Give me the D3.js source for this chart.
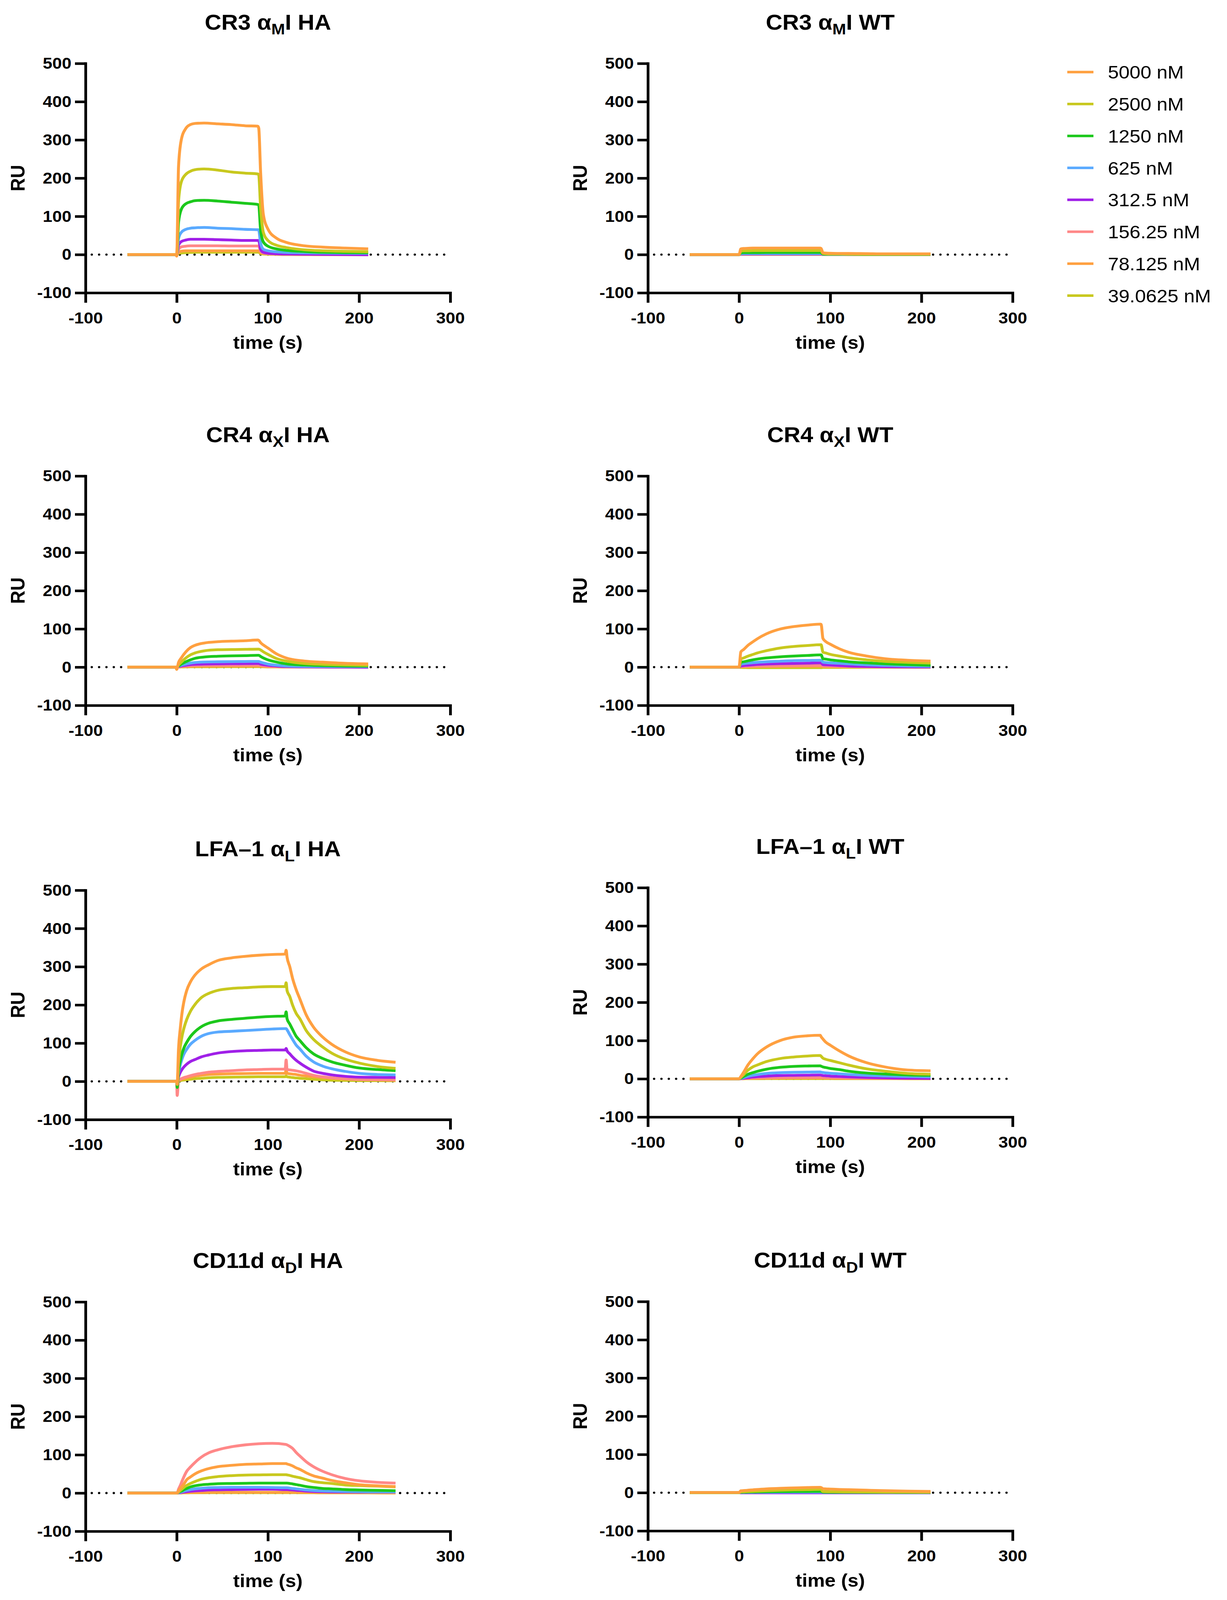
<!DOCTYPE html>
<html>
<head>
<meta charset="utf-8">
<script src="https://cdn.jsdelivr.net/npm/d3@7"></script>
<style>
  html, body { margin: 0; padding: 0; background: #fff; overflow: hidden; }
  svg { display: block; }
  text { font-family: "Liberation Sans", Arial, sans-serif; }
</style>
</head>
<body>
<script>
// ---- data ----
const concentrations = ['5000 nM', '2500 nM', '1250 nM', '625 nM', '312.5 nM', '156.25 nM', '78.125 nM', '39.0625 nM'];

// 90 s injection, 210 s run
const timeShort = [-54, -1, 0, 2, 5, 10, 15, 20, 30, 45, 60, 75, 89, 90, 92, 95, 100, 110, 120, 140, 160, 185, 210];
// 120 s injection, 240 s run
const timeLong = [-54, -1, 0, 0.5, 2, 4, 6, 8, 11, 15, 20, 27, 35, 45, 60, 75, 90, 105, 119, 120, 121, 124, 127, 131, 135, 142, 150, 160, 170, 185, 200, 220, 240];

const cr3HA = [
  [0, 0, -4, 230, 300, 330, 340, 343, 344, 342, 340, 337, 336, 330, 215, 105, 67, 42, 32, 23, 19.5, 17, 15],
  [0, 0, -2, 140, 190, 210, 218, 222, 224, 221, 216, 213, 211, 208, 125, 58, 37, 24, 18.5, 12.5, 10, 8.5, 7.5],
  [0, 0, -2, 85, 118, 133, 138, 141, 142, 140, 137, 134, 131, 129, 65, 33, 22, 14.5, 11, 8, 6, 5.2, 4.8],
  [0, 0, -1, 42, 58, 66, 69, 70, 71, 69, 68, 66, 65, 64, 30, 14, 10, 7, 5.5, 4.5, 4, 3.5, 3.2],
  [0, 0, -1, 25, 34, 38, 40, 40, 40, 39, 38, 37, 37, 36, 14, 6, 3.5, 2, 1.5, 1, 0.5, 0, -0.5],
  [0, 0, 0, 14, 20, 22, 23, 23, 23, 23, 22.5, 22.5, 22.4, 22, 9, 4, 2.5, 1.5, 1, 0.5, 0, 0, 0],
  [0, 0, 0, 6, 9, 10, 10, 10, 10, 10, 10, 10, 10, 9.5, 5, 3, 2, 1, 0.5, 0, 0, 0, 0],
  [0, 0, 0, 3, 4, 5, 5.5, 6, 6, 6, 6, 6, 6, 6, 2.5, 1.5, 1, 0.5, 0, 0, 0, 0, 0]
];

const cr3WT = [
  [0, 0, 0, 15, 16, 16.5, 17, 17, 17, 17, 17, 17, 17, 16, 5, 4, 3.5, 3, 3, 2.5, 2, 2, 2],
  [0, 0, 0, 9, 10, 10, 10.5, 10.5, 10.5, 10.5, 10.5, 10.5, 10.5, 10, 3, 2, 1.5, 1.5, 1, 1, 1, 1, 1],
  [0, 0, 0, 4.5, 5, 5, 5, 5, 5.5, 5.5, 5.5, 5.5, 5.5, 5, 1.5, 1, 1, 1, 1, 0.5, 0.5, 0.5, 0.5],
  [0, 0, 0, 2, 2.5, 2.5, 2.5, 2.5, 2.5, 2.5, 2.5, 2.5, 2.5, 2.5, 1, 0.5, 0.5, 0.5, 0.5, 0.3, 0.3, 0.3, 0.3],
  [0, 0, 0, 1.2, 1.5, 1.5, 1.5, 1.5, 1.5, 1.5, 1.5, 1.5, 1.5, 1.5, 0.5, 0.3, 0.3, 0.3, 0.2, 0.2, 0.2, 0.2, 0.2],
  [0, 0, 0, 0.8, 1, 1, 1, 1, 1, 1, 1, 1, 1, 1, 0.3, 0.2, 0.2, 0.2, 0.1, 0.1, 0.1, 0.1, 0.1],
  [0, 0, 0, 0.4, 0.5, 0.5, 0.5, 0.5, 0.5, 0.5, 0.5, 0.5, 0.5, 0.5, 0.2, 0.1, 0.1, 0.1, 0, 0, 0, 0, 0],
  [0, 0, 0, 0.2, 0.2, 0.2, 0.2, 0.2, 0.2, 0.2, 0.2, 0.2, 0.2, 0.2, 0, 0, 0, 0, 0, 0, 0, 0, 0]
];

const cr4HA = [
  [0, 0, -6, 12, 24, 40, 51, 57, 63, 66.5, 68, 69, 71, 70, 64, 58, 50, 34, 24, 16, 13, 10, 8.5],
  [0, 0, 0, 6, 13, 24, 32, 37, 42.5, 45.5, 46, 46.5, 47, 47, 45, 40, 33.5, 22, 16, 9.6, 7.3, 5.8, 4.8],
  [0, 0, 0, 3, 8, 14, 19, 23, 26.5, 28.5, 29.5, 30, 31, 31, 28, 24, 19, 13, 8.6, 5.4, 4, 3, 2.6],
  [0, 0, 0, 2, 5, 8, 10.5, 12, 13.4, 14, 14.4, 14.7, 15, 15, 13, 11, 8, 5, 3, 2, 1.6, 1.4, 1.3],
  [0, 0, 0, 1, 3, 5, 6.5, 7.3, 8, 8.6, 9, 9.3, 9.6, 9.5, 8, 6.5, 5, 3, 1.6, 0.8, 0.3, 0, -0.3],
  [0, 0, 0, 0.5, 1.5, 3, 4, 4.5, 4.8, 5, 5.2, 5.3, 5.4, 5.3, 4.5, 3.5, 2, 1.2, 0.8, 0.4, 0.2, 0, 0],
  [0, 0, 0, 0.3, 0.8, 1.5, 2, 2.2, 2.5, 2.5, 2.6, 2.6, 2.7, 2.7, 2.2, 1.7, 1, 0.6, 0.4, 0.2, 0, 0, 0],
  [0, 0, 0, 0, 0.3, 0.6, 0.8, 1, 1, 1, 1.2, 1.2, 1.2, 1.2, 1, 0.8, 0.5, 0.3, 0.2, 0, 0, 0, 0]
];

const cr4WT = [
  [0, 0, 0, 40, 46, 57.5, 66, 74, 87, 99.5, 106, 110, 112.5, 112, 75, 67, 60, 48, 39, 29, 22, 18, 16],
  [0, 0, 0, 21, 24, 29, 33, 37, 43, 50, 54, 56.5, 58.5, 58.5, 39, 37, 33.5, 29, 24.6, 19, 15, 12.5, 10.5],
  [0, 0, 0, 13, 14, 16.6, 19, 21, 24, 27, 29, 30.5, 32, 32, 22, 21, 19, 16.5, 14, 11, 8.6, 6.5, 4.8],
  [0, 0, 0, 8, 9, 10.5, 11.5, 12.5, 14, 15.5, 17, 17.5, 18, 18, 13, 12, 11, 10, 8.6, 6, 4.5, 3, 2.2],
  [0, 0, 0, 3, 4, 5, 6, 7, 8, 9, 9.6, 10.3, 11, 11, 6.4, 6, 5.5, 4.2, 3, 2, 1.2, 0.6, 0.3],
  [0, 0, 0, 1.6, 2, 2.5, 2.8, 3, 3.2, 3.8, 4.2, 4.5, 4.8, 4.8, 3, 2.7, 2.4, 2, 1.6, 1, 0.5, 0.2, 0],
  [0, 0, 0, 0.8, 1, 1.2, 1.4, 1.5, 1.6, 1.8, 2, 2.1, 2.2, 2.2, 1.5, 1.3, 1.2, 1, 0.8, 0.5, 0.3, 0.1, 0],
  [0, 0, 0, -1, -1.2, -1.3, -1.4, -1.5, -1.5, -1.5, -1.5, -1.5, -1.5, -1.5, -1, -1, -1, -0.8, -0.6, -0.5, -0.4, -0.3, -0.3]
];

const lfaHA = [
  [0, 0, 0, -8, 85, 140, 182, 210, 238, 260, 278, 294, 305, 316, 323, 327, 330, 332, 333, 343, 325, 300, 270, 240, 216, 174, 142, 116, 97, 77, 64, 55, 50],
  [0, 0, 0, -5, 50, 92, 120, 140, 162, 183, 201, 219, 230, 238, 243, 245, 247, 248, 248, 258, 238, 222, 200, 178, 164, 133, 110, 90, 74, 58, 48, 39, 34],
  [0, 0, 0, -16, 28, 55, 74, 88, 102, 117, 130, 143, 152, 158, 162, 165, 168, 170, 171, 182, 164, 150, 136, 118, 107, 88, 72, 60, 51, 42, 35, 31, 28],
  [0, 0, 0, -3, 22, 44, 60, 72, 84, 97, 107, 118, 125, 129, 131, 133, 135, 137, 138, 138, 135, 122, 110, 95, 85, 66, 51, 40, 33, 26, 21, 18, 17],
  [0, 0, 0, -2, 12, 24, 32, 38, 45, 52, 57, 64, 69, 74, 78, 80, 81, 82, 82, 86, 80, 72, 64, 55, 48, 37, 27, 21, 17, 13, 11, 10.5, 10],
  [0, 0, 0, -37, 3, 6, 8, 10, 12, 15, 18, 21, 24, 26, 28, 30, 31, 32, 32, 56, 31, 30, 29, 27.5, 25.5, 21, 16, 12, 9.5, 7, 5, 4.5, 4],
  [0, 0, 0, -5, 2, 4, 6, 7, 9, 11, 14, 16, 18, 19, 20, 20.5, 21, 21, 21, 30, 21, 20, 19, 18, 16, 14, 12, 10, 8, 6, 5, 4, 3],
  [0, 0, 0, -2, 1, 2, 3, 3.5, 4.5, 5.5, 7, 8, 9.5, 10.5, 11, 11.5, 12, 12, 12, 14, 12, 11, 10, 9, 8, 7, 5.5, 4, 3, 2.5, 2, 1.8, 1.6]
];

const lfaWT = [
  [0, 0, 0, 6, 17, 37, 52, 65, 83, 100, 109, 112.5, 114, 110, 104, 96, 88, 73, 60, 42, 31, 23, 21],
  [0, 0, 0, 4, 11, 23, 31, 36, 45, 53, 57, 59.5, 61, 59, 54, 51, 48, 42, 36, 26, 20, 14, 12],
  [0, 0, 0, 2, 6, 12, 16, 19.5, 25, 30, 32.5, 33.5, 34, 33, 31, 29.5, 27, 24, 20, 15, 12.5, 10, 9],
  [0, 0, 0, 1, 3, 6.5, 9, 11, 14, 16, 17, 17.5, 18, 17.5, 16.5, 15.5, 14.5, 13, 11.5, 9, 7.5, 6, 5],
  [0, 0, 0, 0.5, 1.5, 3, 4.5, 5.5, 7, 8.5, 9, 9.5, 10, 9.5, 8.5, 8, 7, 6, 5, 3.5, 2.5, 1.5, 1],
  [0, 0, 0, 0.3, 0.8, 1.5, 2, 2.5, 3, 3.5, 3.8, 4, 4, 3.8, 3.5, 3.3, 3, 2.5, 2, 1.5, 1.2, 1, 1],
  [0, 0, 0, 0.2, 0.4, 0.8, 1, 1.2, 1.5, 1.8, 2, 2, 2, 2, 1.8, 1.7, 1.5, 1.3, 1.1, 0.8, 0.6, 0.5, 0.5],
  [0, 0, 0, 0, 0.1, 0.2, 0.3, 0.3, 0.4, 0.5, 0.5, 0.5, 0.5, 0.5, 0.4, 0.4, 0.4, 0.3, 0.3, 0.2, 0.2, 0.1, 0.1]
];

const cd11dHA = [
  [0, 0, 0, 0, 6, 12, 18, 24, 35, 42, 50, 58, 64, 69, 72.5, 75, 76, 77, 77, 77, 76, 74, 71, 66, 62, 53, 45, 39, 33, 27, 22, 19, 17],
  [0, 0, 0, 0, 3, 7, 11, 15, 20, 25, 30, 36, 40, 43, 45.5, 47, 47.5, 48, 48, 48, 47.5, 46, 44, 42, 40, 35, 30, 27, 25, 21, 19.5, 18, 16],
  [0, 0, 0, 0, 2, 4, 6, 9, 12, 16, 19, 21.5, 23, 24.5, 25, 25.5, 26, 26, 26, 26, 26, 25, 24, 22, 20.5, 17, 14.5, 12, 11, 9, 8, 7, 6],
  [0, 0, 0, 0, 1, 2, 3.5, 5, 7, 9, 11, 12.5, 14, 14.5, 15, 15, 15, 14.5, 14, 14, 14, 13, 12, 11, 10, 8, 6.5, 5.5, 5, 4, 3.5, 3, 3],
  [0, 0, 0, 0, 0.5, 1, 2, 2.5, 3.5, 4.5, 5.5, 6.5, 8, 8.5, 9, 9.5, 9.8, 10, 9, 9, 9, 8.5, 8, 7, 6.5, 5, 4, 3.5, 3, 2.8, 2.6, 2.5, 2.5],
  [0, 0, 0, 0, 10, 20, 32, 43, 57, 68, 80, 94, 105, 113, 121, 126, 129, 130, 127.5, 127, 126, 122, 117, 106, 97, 82, 69, 57, 48, 38, 32, 28, 26],
  [0, 0, 0, 0, 0.2, 0.4, 0.6, 0.8, 1, 1.2, 1.4, 1.6, 1.8, 2, 2, 2, 2, 2, 2, 2, 2, 1.9, 1.8, 1.7, 1.6, 1.4, 1.2, 1, 0.9, 0.8, 0.7, 0.6, 0.5],
  [0, 0, 0, 0, 0.1, 0.2, 0.3, 0.4, 0.5, 0.6, 0.7, 0.8, 0.9, 1, 1, 1, 1, 1, 1, 1, 1, 1, 0.9, 0.9, 0.8, 0.7, 0.6, 0.5, 0.5, 0.4, 0.4, 0.3, 0.3]
];

const cd11dWT = [
  [0.5, 0.5, 0.5, 5, 5.5, 6.5, 7.5, 8.5, 10, 11.5, 12.5, 13.5, 14, 13.5, 10.5, 10, 9.5, 8.5, 7.8, 6.5, 5.2, 4, 3.2],
  [0, 0, 0, 2, 2.3, 3, 3.6, 4.2, 5.2, 6.4, 7.4, 8, 8.6, 8.4, 3, 2.8, 2.6, 2.3, 2, 1.7, 1.4, 1.2, 1],
  [0, 0, 0, 1, 1.2, 1.5, 1.8, 2, 2.4, 2.8, 3, 3.2, 3.3, 3.2, 1.3, 1.2, 1.1, 1, 1, 0.8, 0.7, 0.6, 0.5],
  [0, 0, 0, 0.5, 0.6, 0.8, 0.9, 1, 1.1, 1.2, 1.3, 1.4, 1.4, 1.4, 0.6, 0.6, 0.5, 0.5, 0.5, 0.4, 0.3, 0.3, 0.3],
  [0, 0, 0, -0.5, -0.5, -0.5, -0.5, -0.5, -0.5, -0.5, -0.5, -0.5, -0.5, -0.5, -0.5, -0.5, -0.5, -0.5, -0.5, -0.5, -0.5, -0.5, -0.5],
  [0, 0, 0, 0.2, 0.2, 0.2, 0.2, 0.2, 0.2, 0.2, 0.2, 0.2, 0.2, 0.2, 0.1, 0.1, 0.1, 0.1, 0.1, 0, 0, 0, 0],
  [0, 0, 0, 0.1, 0.1, 0.1, 0.1, 0.1, 0.1, 0.1, 0.1, 0.1, 0.1, 0.1, 0, 0, 0, 0, 0, 0, 0, 0, 0],
  [0, 0, 0, 0, 0, 0, 0, 0, 0, 0, 0, 0, 0, 0, 0, 0, 0, 0, 0, 0, 0, 0, 0]
];

const titleMain = ['CR3 α', 'CR3 α', 'CR4 α', 'CR4 α', 'LFA–1 α', 'LFA–1 α', 'CD11d α', 'CD11d α'];
const titleSub = ['M', 'M', 'X', 'X', 'L', 'L', 'D', 'D'];
const titleTail = ['I HA', 'I WT', 'I HA', 'I WT', 'I HA', 'I WT', 'I HA', 'I WT'];
const panelTimes = [timeShort, timeShort, timeShort, timeShort, timeLong, timeShort, timeLong, timeShort];
const panelValues = [cr3HA, cr3WT, cr4HA, cr4WT, lfaHA, lfaWT, cd11dHA, cd11dWT];

const xTicks = [-100, 0, 100, 200, 300];
const yTicks = [-100, 0, 100, 200, 300, 400, 500];

// ---- styling / layout ----
const seriesColors = ['#FFA040', '#C8C81E', '#1CC81C', '#5AAAFF', '#A020E8', '#FF8888', '#FFA040', '#C8C81E'];

const LAYOUT = {
    width: 3142,
    height: 4353,
    colX: [219, 1659],
    rowTop: [[172.6, 172.6], [1295, 1295], [2422, 2415], [3542, 3541]],
    innerWidth: 934,
    innerHeight: 624
};

const FONT = '"Liberation Sans", Arial, sans-serif';

// the whole figure is drawn in a 3142 x 4353 coordinate box that fills the window
const svg = d3.select('body').append('svg')
    .attr('viewBox', `0 0 ${LAYOUT.width} ${LAYOUT.height}`)
    .attr('preserveAspectRatio', 'none')
    .style('width', '100vw')
    .style('height', '100vh');

const x = d3.scaleLinear().domain([-100, 300]).range([0, LAYOUT.innerWidth]);
const y = d3.scaleLinear().domain([-100, 500]).range([LAYOUT.innerHeight, 0]);

panelValues.forEach((values, i) => {
    const col = i % 2;
    const row = Math.floor(i / 2);
    const time = panelTimes[i];

    const canvas = svg.append('g')
        .attr('transform', `translate(${LAYOUT.colX[col]},${LAYOUT.rowTop[row][col]})`);

    // dotted zero line
    canvas.append('path')
        .attr('d', d3.line()([[x(-100), y(0)], [x(300), y(0)]]))
        .attr('stroke', '#000')
        .attr('stroke-width', 6)
        .attr('stroke-linecap', 'round')
        .attr('stroke-dasharray', '0 18.8')
        .attr('stroke-dashoffset', 2.8)
        .attr('fill', 'none');

    const line = d3.line()
        .x((d, k) => x(time[k]))
        .y(d => y(d))
        .curve(d3.curveMonotoneX);

    for (let s = values.length - 1; s >= 0; s--) {
        canvas.append('path')
            .datum(values[s])
            .attr('d', line)
            .attr('fill', 'none')
            .attr('stroke', seriesColors[s])
            .attr('stroke-width', 7.5)
            .attr('stroke-linejoin', 'round');
    }

    const xAxis = d3.axisBottom(x)
        .tickValues(xTicks)
        .tickFormat(d => String(d))
        .tickSize(27)
        .tickSizeOuter(0)
        .tickPadding(25);

    const yAxis = d3.axisLeft(y)
        .tickValues(yTicks)
        .tickFormat(d => String(d))
        .tickSize(27)
        .tickSizeOuter(0)
        .tickPadding(9);

    const xAxisGroup = canvas.append('g')
        .attr('transform', `translate(0,${LAYOUT.innerHeight})`)
        .call(xAxis);
    const yAxisGroup = canvas.append('g').call(yAxis);

    [xAxisGroup, yAxisGroup].forEach(g => {
        g.attr('font-family', FONT).attr('font-size', 44).attr('font-weight', 'bold');
        g.select('.domain').attr('stroke-width', 7).attr('stroke-linecap', 'square');
        g.selectAll('.tick line').attr('stroke-width', 7);
        g.selectAll('.tick text').attr('fill', '#000');
    });

    // title
    const title = canvas.append('text')
        .attr('x', LAYOUT.innerWidth / 2)
        .attr('y', -92)
        .attr('text-anchor', 'middle')
        .attr('font-family', FONT)
        .attr('font-weight', 'bold')
        .attr('font-size', 59);
    title.append('tspan').text(titleMain[i]);
    title.append('tspan').attr('font-size', 42).attr('dy', 13).text(titleSub[i]);
    title.append('tspan').attr('dy', -13).text(titleTail[i]);

    // axis labels
    canvas.append('text')
        .attr('x', LAYOUT.innerWidth / 2)
        .attr('y', LAYOUT.innerHeight + 152)
        .attr('text-anchor', 'middle')
        .attr('font-family', FONT)
        .attr('font-weight', 'bold')
        .attr('font-size', 50)
        .text('time (s)');

    canvas.append('text')
        .attr('transform', `translate(-174,${LAYOUT.innerHeight / 2}) rotate(-90)`)
        .attr('text-anchor', 'middle')
        .attr('dy', '0.36em')
        .attr('font-family', FONT)
        .attr('font-weight', 'bold')
        .attr('font-size', 50)
        .text('RU');
});

// legend
const legend = svg.append('g');
concentrations.forEach((label, i) => {
    const ly = 196 + 86.9 * i;
    legend.append('line')
        .attr('x1', 2733).attr('x2', 2800)
        .attr('y1', ly).attr('y2', ly)
        .attr('stroke', seriesColors[i])
        .attr('stroke-width', 7);
    legend.append('text')
        .attr('x', 2837)
        .attr('y', ly)
        .attr('dy', '0.36em')
        .attr('font-family', FONT)
        .attr('font-size', 50)
        .text(label);
});
</script>
</body>
</html>
